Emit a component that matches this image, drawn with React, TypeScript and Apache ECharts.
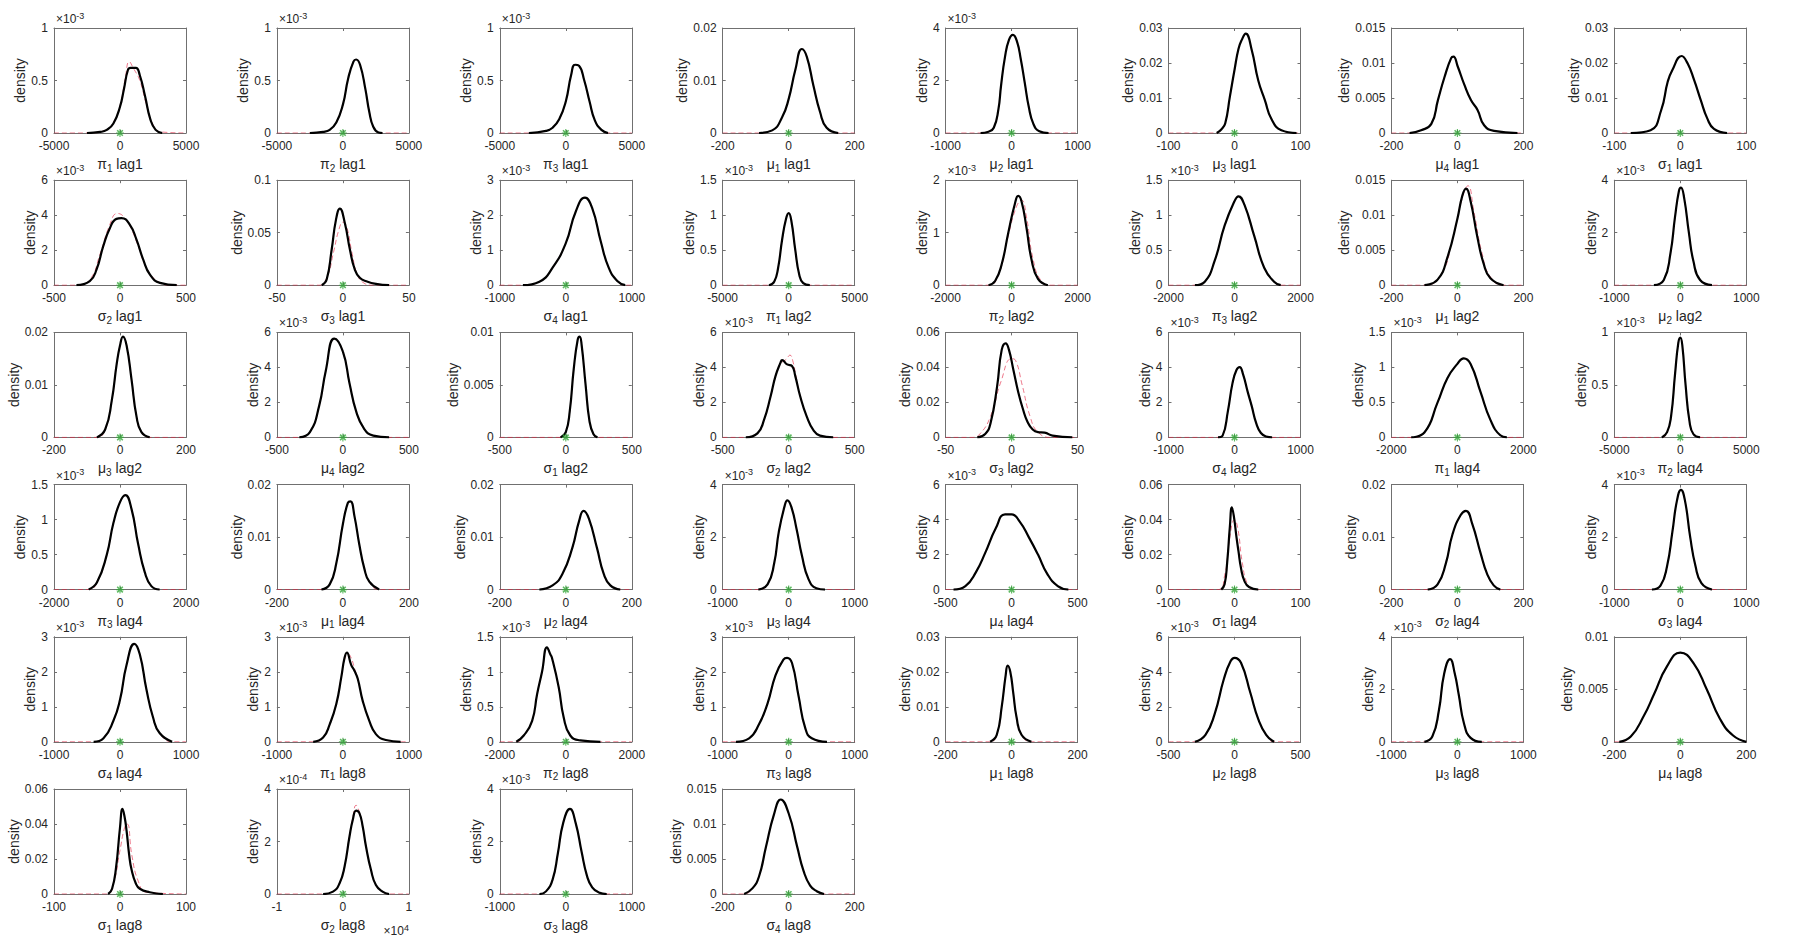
import React, { useEffect, useRef } from "react";
import * as echarts from "echarts";

// ---------- panel meta data ----------
const paramNames = [
  "π1", "π2", "π3", "μ1", "μ2", "μ3", "μ4", "σ1",
  "σ2", "σ3", "σ4", "π1", "π2", "π3", "μ1", "μ2",
  "μ3", "μ4", "σ1", "σ2", "σ3", "σ4", "π1", "π2",
  "π3", "μ1", "μ2", "μ3", "μ4", "σ1", "σ2", "σ3",
  "σ4", "π1", "π2", "π3", "μ1", "μ2", "μ3", "μ4",
  "σ1", "σ2", "σ3", "σ4",
];
const lagNames = [
  "lag1", "lag1", "lag1", "lag1", "lag1", "lag1", "lag1", "lag1",
  "lag1", "lag1", "lag1", "lag2", "lag2", "lag2", "lag2", "lag2",
  "lag2", "lag2", "lag2", "lag2", "lag2", "lag2", "lag4", "lag4",
  "lag4", "lag4", "lag4", "lag4", "lag4", "lag4", "lag4", "lag4",
  "lag4", "lag8", "lag8", "lag8", "lag8", "lag8", "lag8", "lag8",
  "lag8", "lag8", "lag8", "lag8",
];
const xHalfRange = [
  5000, 5000, 5000, 200, 1000, 100, 200, 100,
  500, 50, 1000, 5000, 2000, 2000, 200, 1000,
  200, 500, 500, 500, 50, 1000, 2000, 5000,
  2000, 200, 200, 1000, 500, 100, 200, 1000,
  1000, 1000, 2000, 1000, 200, 500, 1000, 200,
  100, 1, 1000, 200,
];
const xExponent = [
  0, 0, 0, 0, 0, 0, 0, 0, 0, 0, 0, 0, 0, 0, 0, 0, 0, 0, 0, 0, 0, 0,
  0, 0, 0, 0, 0, 0, 0, 0, 0, 0, 0, 0, 0, 0, 0, 0, 0, 0, 0, 4, 0, 0,
];
const yMax = [
  1, 1, 1, 0.02, 4, 0.03, 0.015, 0.03,
  6, 0.1, 3, 1.5, 2, 1.5, 0.015, 4,
  0.02, 6, 0.01, 6, 0.06, 6, 1.5, 1,
  1.5, 0.02, 0.02, 4, 6, 0.06, 0.02, 4,
  3, 3, 1.5, 3, 0.03, 6, 4, 0.01,
  0.06, 4, 4, 0.015,
];
const yStep = [
  0.5, 0.5, 0.5, 0.01, 2, 0.01, 0.005, 0.01,
  2, 0.05, 1, 0.5, 1, 0.5, 0.005, 2,
  0.01, 2, 0.005, 2, 0.02, 2, 0.5, 0.5,
  0.5, 0.01, 0.01, 2, 2, 0.02, 0.01, 2,
  1, 1, 0.5, 1, 0.01, 2, 2, 0.005,
  0.02, 2, 2, 0.005,
];
const yExponent = [
  -3, -3, -3, 0, -3, 0, 0, 0,
  -3, 0, -3, -3, -3, -3, 0, -3,
  0, -3, 0, -3, 0, -3, -3, -3,
  -3, 0, 0, -3, -3, 0, 0, -3,
  -3, -3, -3, -3, 0, -3, -3, 0,
  0, -4, -3, 0,
];

// ---------- posterior densities (black), values in displayed units ----------
const d_pi1_lag1 = [[-2500,0],[-1500,0.01],[-1000,0.03],[-500,0.09],[0,0.25],[300,0.42],[600,0.6],[800,0.62],[1200,0.62],[1500,0.55],[1900,0.35],[2300,0.13],[2700,0.03],[3200,0]];
const d_pi2_lag1 = [[-2500,0],[-1500,0.01],[-1000,0.03],[-500,0.1],[0,0.27],[400,0.52],[800,0.68],[1000,0.7],[1300,0.65],[1700,0.42],[2000,0.2],[2300,0.06],[2700,0.005],[3000,0]];
const d_pi3_lag1 = [[-2800,0],[-1500,0.02],[-1000,0.05],[-500,0.13],[0,0.3],[400,0.55],[700,0.65],[1000,0.64],[1400,0.5],[1800,0.3],[2200,0.12],[2700,0.03],[3200,0]];
const d_mu1_lag1 = [[-90,0],[-50,0.0005],[-20,0.003],[0,0.0065],[20,0.012],[40,0.016],[55,0.0145],[75,0.009],[95,0.004],[115,0.001],[150,0]];
const d_mu2_lag1 = [[-470,0],[-350,0.05],[-270,0.2],[-200,0.9],[-160,1.8],[-100,2.9],[-40,3.55],[20,3.74],[80,3.5],[140,2.8],[200,1.9],[260,1.0],[330,0.35],[420,0.07],[560,0]];
const d_mu3_lag1 = [[-27,0],[-20,0.001],[-14,0.0028],[-7,0.0104],[0,0.018],[6,0.024],[11,0.0266],[17,0.0284],[26,0.0238],[36,0.015],[46,0.0094],[56,0.004],[71,0.0008],[94,0]];
const d_mu4_lag1 = [[-145,0],[-110,0.0004],[-79,0.0013],[-59,0.0047],[-39,0.008],[-19,0.0107],[-12,0.0109],[1,0.0095],[21,0.0069],[41,0.0047],[61,0.0033],[81,0.0011],[111,0.0003],[182,0]];
const d_sig1_lag1 = [[-75,0],[-45,0.0008],[-29,0.0065],[-19,0.0147],[-12,0.018],[2,0.022],[11,0.0199],[21,0.0151],[31,0.0094],[41,0.0041],[51,0.0012],[71,0]];
const d_sig2_lag1 = [[-330,0],[-229,0.23],[-178,0.89],[-128,2.2],[-77,3.26],[-27,3.79],[11,3.83],[75,3.45],[125,2.6],[176,1.46],[227,0.6],[303,0.13],[430,0]];
const d_sig3_lag1 = [[-16,0],[-12.3,0.0054],[-8.5,0.034],[-5.3,0.062],[-2.3,0.073],[1.5,0.059],[5.3,0.034],[9,0.015],[12.8,0.007],[17.8,0.0038],[25,0.0013],[35,0]];
const d_sig4_lag1 = [[-650,0],[-400,0.1],[-200,0.5],[0,1.2],[150,2.1],[290,2.5],[400,2.2],[530,1.25],[650,0.5],[780,0.12],[900,0]];
const d_pi1_lag2 = [[-1500,0],[-1100,0.05],[-800,0.25],[-500,0.65],[-200,0.95],[0,1.03],[200,0.92],[500,0.5],[800,0.15],[1100,0.03],[1600,0]];
const d_pi2_lag2 = [[-700,0],[-500,0.08],[-300,0.4],[-100,1.0],[100,1.55],[200,1.7],[300,1.6],[450,1.1],[600,0.5],[800,0.12],[1100,0]];
const d_pi3_lag2 = [[-1200,0],[-900,0.05],[-600,0.35],[-300,0.85],[0,1.2],[120,1.27],[300,1.15],[600,0.7],[900,0.25],[1200,0.05],[1400,0]];
const d_mu1_lag2 = [[-100,0],[-60,0.0008],[-30,0.004],[0,0.0095],[15,0.0128],[26,0.0138],[40,0.012],[60,0.007],[80,0.003],[100,0.001],[140,0]];
const d_mu2_lag2 = [[-400,0],[-250,0.2],[-150,1.2],[-80,2.6],[-20,3.6],[10,3.72],[60,3.3],[130,2.0],[200,0.9],[300,0.2],[480,0]];
const d_mu3_lag2 = [[-70,0],[-45,0.0015],[-25,0.007],[-10,0.014],[0,0.0175],[9,0.0192],[20,0.0175],[35,0.011],[50,0.004],[65,0.001],[90,0]];
const d_mu4_lag2 = [[-330,0],[-250,0.3],[-180,1.8],[-130,3.8],[-65,5.65],[0,4.9],[50,3.1],[100,1.5],[160,0.5],[230,0.1],[350,0]];
const d_sig1_lag2 = [[-40,0],[0,0.0005],[30,0.0025],[60,0.0065],[90,0.0093],[105,0.0096],[120,0.0088],[150,0.005],[180,0.0015],[210,0.0003],[240,0]];
const d_sig2_lag2 = [[-325,0],[-237,0.23],[-187,1.0],[-137,2.35],[-100,3.5],[-62,4.27],[-50,4.42],[-12,4.17],[25,4.08],[50,3.5],[87,2.35],[137,1.19],[187,0.42],[237,0.1],[337,0]];
const d_sig3_lag2 = [[-26,0],[-20,0.002],[-16,0.008],[-11,0.029],[-7.5,0.05],[-4.5,0.0537],[-2,0.05],[1.25,0.039],[5,0.026],[8.75,0.0158],[12,0.009],[16,0.0045],[20,0.003],[25,0.0027],[31,0.001],[46,0]];
const d_sig4_lag2 = [[-250,0],[-180,0.1],[-100,1.5],[-30,3.1],[30,3.85],[78,4.02],[130,3.6],[200,2.6],[260,1.8],[330,0.8],[400,0.25],[480,0.05],[570,0]];
const d_pi1_lag4 = [[-1400,0],[-1000,0.07],[-600,0.5],[-300,0.85],[0,1.05],[190,1.13],[400,1.05],[700,0.65],[1000,0.25],[1300,0.03],[1500,0]];
const d_pi2_lag4 = [[-1400,0],[-1000,0.05],[-700,0.2],[-400,0.6],[-150,0.9],[0,0.95],[150,0.88],[400,0.5],[700,0.15],[1000,0.03],[1500,0]];
const d_pi3_lag4 = [[-950,0],[-700,0.1],[-400,0.5],[-200,0.95],[0,1.25],[160,1.35],[350,1.15],[550,0.65],[750,0.25],[950,0.05],[1200,0]];
const d_mu1_lag4 = [[-65,0],[-40,0.001],[-20,0.005],[0,0.0125],[15,0.0165],[23,0.0168],[35,0.014],[50,0.0085],[65,0.004],[80,0.0015],[110,0]];
const d_mu2_lag4 = [[-80,0],[-40,0.0008],[-10,0.003],[20,0.008],[40,0.013],[54,0.015],[70,0.0135],[95,0.0078],[115,0.003],[135,0.0008],[165,0]];
const d_mu3_lag4 = [[-460,0],[-320,0.2],[-220,1.0],[-150,2.2],[-60,3.2],[-20,3.4],[40,3.15],[120,2.3],[200,1.3],[300,0.4],[420,0.05],[550,0]];
const d_mu4_lag4 = [[-440,0],[-350,0.2],[-270,1.0],[-200,2.1],[-120,3.5],[-50,4.3],[0,4.3],[60,3.9],[130,3.0],[200,2.0],[270,0.9],[350,0.2],[430,0]];
const d_sig1_lag4 = [[-20,0],[-15,0.003],[-11,0.016],[-7,0.036],[-4,0.047],[-1,0.042],[3,0.03],[6,0.022],[10,0.012],[15,0.005],[22,0.0015],[36,0]];
const d_sig2_lag4 = [[-90,0],[-60,0.001],[-35,0.005],[-15,0.0105],[10,0.0142],[26,0.015],[45,0.0125],[70,0.007],[90,0.003],[110,0.0008],[130,0]];
const d_sig3_lag4 = [[-430,0],[-300,0.15],[-200,0.9],[-120,2.2],[-50,3.4],[10,3.8],[70,3.4],[150,2.0],[230,0.9],[320,0.25],[480,0]];
const d_sig4_lag4 = [[-400,0],[-250,0.1],[-100,0.6],[0,1.2],[100,2.2],[217,2.8],[300,2.5],[400,1.5],[500,0.7],[600,0.25],[790,0]];
const d_pi1_lag8 = [[-450,0],[-300,0.12],[-200,0.5],[-100,1.08],[-25,1.84],[25,2.4],[60,2.55],[125,2.2],[175,2.03],[225,1.8],[300,1.17],[400,0.6],[500,0.22],[650,0.05],[875,0]];
const d_pi2_lag8 = [[-1500,0],[-1275,0.09],[-1020,0.3],[-870,0.68],[-720,1.0],[-570,1.35],[-470,1.25],[-420,1.2],[-215,0.78],[-65,0.35],[135,0.09],[440,0.02],[1050,0]];
const d_pi3_lag8 = [[-800,0],[-600,0.1],[-450,0.5],[-320,1.1],[-200,1.9],[-80,2.35],[-25,2.4],[50,2.25],[150,1.3],[250,0.4],[350,0.1],[580,0]];
const d_mu1_lag8 = [[-65,0],[-45,0.002],[-30,0.01],[-18,0.019],[-12,0.0218],[-4,0.02],[5,0.014],[15,0.007],[30,0.002],[60,0]];
const d_mu2_lag8 = [[-300,0],[-220,0.4],[-150,1.6],[-80,3.6],[-30,4.6],[0,4.8],[50,4.5],[120,2.8],[180,1.3],[240,0.4],[300,0]];
const d_mu3_lag8 = [[-500,0],[-380,0.2],[-280,1.2],[-200,2.6],[-110,3.15],[-40,2.6],[20,1.8],[100,0.7],[200,0.15],[370,0]];
const d_mu4_lag8 = [[-185,0],[-150,0.0005],[-110,0.0025],[-80,0.0045],[-40,0.0072],[0,0.0085],[40,0.0075],[80,0.005],[120,0.0022],[160,0.0006],[200,0]];
const d_sig1_lag8 = [[-18,0],[-12,0.003],[-6,0.015],[0,0.038],[3.8,0.0486],[7,0.044],[10,0.036],[14,0.022],[17.5,0.014],[24,0.006],[30,0.003],[45,0.001],[65,0]];
const d_sig2_lag8 = [[-0.3,0],[-0.15,0.09],[-0.05,0.41],[0.025,1.04],[0.1,2.19],[0.15,2.83],[0.2,3.18],[0.25,3.08],[0.3,2.57],[0.35,1.81],[0.425,0.92],[0.5,0.34],[0.6,0.09],[0.7,0]];
const d_sig3_lag8 = [[-400,0],[-300,0.1],[-200,0.55],[-120,1.55],[-40,2.7],[63,3.24],[150,2.7],[240,1.6],[320,0.7],[400,0.25],[500,0.06],[620,0]];
const d_sig4_lag8 = [[-135,0],[-110,0.0008],[-90,0.0025],[-69,0.0067],[-45,0.0113],[-24,0.0135],[0,0.0115],[26,0.0067],[45,0.0033],[65,0.0012],[85,0.0004],[107,0]];

const posterior = [
  d_pi1_lag1, d_pi2_lag1, d_pi3_lag1, d_mu1_lag1, d_mu2_lag1, d_mu3_lag1, d_mu4_lag1, d_sig1_lag1,
  d_sig2_lag1, d_sig3_lag1, d_sig4_lag1, d_pi1_lag2, d_pi2_lag2, d_pi3_lag2, d_mu1_lag2, d_mu2_lag2,
  d_mu3_lag2, d_mu4_lag2, d_sig1_lag2, d_sig2_lag2, d_sig3_lag2, d_sig4_lag2, d_pi1_lag4, d_pi2_lag4,
  d_pi3_lag4, d_mu1_lag4, d_mu2_lag4, d_mu3_lag4, d_mu4_lag4, d_sig1_lag4, d_sig2_lag4, d_sig3_lag4,
  d_sig4_lag4, d_pi1_lag8, d_pi2_lag8, d_pi3_lag8, d_mu1_lag8, d_mu2_lag8, d_mu3_lag8, d_mu4_lag8,
  d_sig1_lag8, d_sig2_lag8, d_sig3_lag8, d_sig4_lag8,
];

// ---------- alternative densities (red dashed) where they visibly differ ----------
const r_pi1_lag1 = [[-5000,0],[-2500,0],[-1000,0.03],[-500,0.1],[0,0.26],[400,0.52],[700,0.68],[1000,0.62],[1500,0.5],[2000,0.27],[2500,0.08],[3100,0.01],[5000,0]];
const r_sig2_lag1 = [[-500,0],[-330,0],[-230,0.3],[-150,1.8],[-80,3.4],[-20,4.1],[50,3.7],[130,2.4],[200,1.0],[280,0.25],[380,0],[500,0]];
const r_sig3_lag1 = [[-50,0],[-18,0],[-12,0.008],[-7,0.032],[-3,0.053],[0,0.06],[3,0.055],[7,0.03],[11,0.01],[16,0.002],[22,0],[50,0]];
const r_pi2_lag2 = [[-2000,0],[-700,0],[-400,0.2],[-100,0.95],[150,1.5],[300,1.62],[450,1.3],[650,0.5],[900,0.08],[1200,0],[2000,0]];
const r_mu1_lag2 = [[-200,0],[-100,0],[-50,0.0015],[-15,0.0065],[15,0.0125],[32,0.0142],[50,0.0105],[75,0.0045],[100,0.0012],[140,0],[200,0]];
const r_sig2_lag2 = [[-500,0],[-325,0],[-237,0.23],[-187,1.0],[-137,2.35],[-100,3.5],[-62,4.2],[-20,4.45],[10,4.7],[30,4.4],[55,3.5],[87,2.35],[137,1.19],[187,0.42],[237,0.1],[337,0],[500,0]];
const r_sig3_lag2 = [[-50,0],[-30,0],[-24,0.002],[-16,0.012],[-8,0.032],[0,0.045],[3,0.044],[8,0.03],[14,0.012],[20,0.003],[30,0],[50,0]];
const r_sig1_lag4 = [[-100,0],[-25,0],[-15,0.008],[-7,0.03],[0,0.04],[5,0.035],[12,0.015],[20,0.003],[30,0],[100,0]];
const r_pi1_lag8 = [[-1000,0],[-450,0],[-300,0.12],[-200,0.5],[-100,1.08],[-25,1.84],[25,2.35],[80,2.5],[125,2.4],[175,2.1],[225,1.8],[300,1.17],[400,0.6],[500,0.22],[650,0.05],[875,0],[1000,0]];
const r_sig1_lag8 = [[-100,0],[-20,0],[-10,0.006],[0,0.025],[7,0.038],[11,0.04],[18,0.022],[28,0.007],[40,0.001],[100,0]];
const r_sig2_lag8 = [[-1,0],[-0.3,0],[-0.15,0.09],[-0.05,0.41],[0.025,1.04],[0.1,2.2],[0.15,2.9],[0.2,3.38],[0.24,3.2],[0.3,2.57],[0.35,1.81],[0.425,0.92],[0.5,0.34],[0.6,0.09],[0.7,0],[1,0]];

const alternative: Record<number, number[][]> = {
  0: r_pi1_lag1, 8: r_sig2_lag1, 9: r_sig3_lag1, 12: r_pi2_lag2, 14: r_mu1_lag2,
  19: r_sig2_lag2, 20: r_sig3_lag2, 29: r_sig1_lag4, 33: r_pi1_lag8, 40: r_sig1_lag8, 41: r_sig2_lag8,
};

// true value marker
const trueValue = [[0, 0]];

// ---------- layout / style ----------
const COLS = 8;
const LEFT0 = 54;
const TOP0 = 28;
const DX = 222.9;
const DY = 152.2;
const GW = 132;
const GH = 105;
const FONT = '"Liberation Sans", Arial, Helvetica, sans-serif';
const TEXT = "#262626";
const AXIS = "#707070";
const TICK_FS = 12;
const ASTERISK =
  "path://M-0.7,-5L0.7,-5L0.7,5L-0.7,5Z M-5,-0.7L5,-0.7L5,0.7L-5,0.7Z M-4.2,-2.8L-2.8,-4.2L4.2,2.8L2.8,4.2Z M2.8,-4.2L4.2,-2.8L-2.8,4.2L-4.2,2.8Z";

function fmt(v: number): string {
  return String(parseFloat(Number(v).toPrecision(6)));
}
function textWidth(s: string): number {
  let w = 0;
  for (const ch of s) w += ch === "." ? 0.278 : ch === "-" ? 0.333 : 0.556;
  return w * TICK_FS;
}

function buildOption() {
  const grids: any[] = [];
  const xAxes: any[] = [];
  const yAxes: any[] = [];
  const series: any[] = [];
  const graphics: any[] = [];

  paramNames.forEach((pname, i) => {
    const r = Math.floor(i / COLS);
    const c = i % COLS;
    const left = LEFT0 + c * DX;
    const top = TOP0 + r * DY;
    grids.push({ left, top, width: GW, height: GH, show: false, containLabel: false });

    const half = xHalfRange[i];
    const greek = pname.charAt(0);
    const sub = pname.slice(1);

    const commonAxis = {
      axisLine: { show: true, onZero: false, lineStyle: { color: AXIS, width: 1 } },
      axisTick: { show: true, inside: true, length: 3, lineStyle: { color: AXIS } },
      splitLine: { show: false },
    };

    xAxes.push({
      gridIndex: i,
      type: "value",
      position: "bottom",
      min: -half,
      max: half,
      interval: half,
      ...commonAxis,
      axisLabel: { fontSize: TICK_FS, fontFamily: FONT, color: TEXT, margin: 7, formatter: (v: number) => fmt(v) },
      name: `{g|${greek}}{s|${sub}}{t| ${lagNames[i]}}`,
      nameLocation: "middle",
      nameGap: 22,
      nameTextStyle: {
        fontFamily: FONT,
        fontSize: 14,
        color: TEXT,
        rich: {
          g: { fontFamily: FONT, fontSize: 14, color: TEXT },
          s: { fontFamily: FONT, fontSize: 10, color: TEXT, padding: [8, 0, 0, 0] },
          t: { fontFamily: FONT, fontSize: 14, color: TEXT },
        },
      },
    });
    xAxes.push({
      gridIndex: i,
      type: "value",
      position: "top",
      min: -half,
      max: half,
      interval: half,
      ...commonAxis,
      axisLabel: { show: false },
    });

    const labels: string[] = [];
    for (let k = 0; k * yStep[i] <= yMax[i] + 1e-12; k++) labels.push(fmt(k * yStep[i]));
    const maxW = Math.max(...labels.map(textWidth));

    yAxes.push({
      gridIndex: i,
      type: "value",
      position: "left",
      min: 0,
      max: yMax[i],
      interval: yStep[i],
      ...commonAxis,
      axisLabel: { fontSize: TICK_FS, fontFamily: FONT, color: TEXT, margin: 6, formatter: (v: number) => fmt(v) },
      name: "density",
      nameLocation: "middle",
      nameGap: maxW + 9.5,
      nameTextStyle: { fontFamily: FONT, fontSize: 14, color: TEXT },
    });
    yAxes.push({
      gridIndex: i,
      type: "value",
      position: "right",
      min: 0,
      max: yMax[i],
      interval: yStep[i],
      ...commonAxis,
      axisLabel: { show: false },
    });

    const xi = 2 * i;
    const yi = 2 * i;
    const post = posterior[i];
    const alt = alternative[i] || [[-half, 0], ...post, [half, 0]];

    series.push({
      type: "line",
      xAxisIndex: xi,
      yAxisIndex: yi,
      data: alt,
      showSymbol: false,
      smooth: 0.5,
      silent: true,
      z: 2,
      lineStyle: { color: "rgba(225,30,60,0.6)", width: 1, type: [5, 3] },
    });
    series.push({
      type: "line",
      xAxisIndex: xi,
      yAxisIndex: yi,
      data: post,
      showSymbol: false,
      smooth: 0.5,
      silent: true,
      z: 3,
      lineStyle: { color: "#000000", width: 2.2 },
    });
    series.push({
      type: "scatter",
      xAxisIndex: xi,
      yAxisIndex: yi,
      data: trueValue,
      symbol: ASTERISK,
      symbolSize: 8,
      clip: false,
      silent: true,
      z: 4,
      itemStyle: { color: "#35a83a" },
    });

    const expRich = {
      a: { fontFamily: FONT, fontSize: 12, fill: TEXT },
      b: { fontFamily: FONT, fontSize: 9, fill: TEXT, padding: [0, 0, 7, 0] },
    };
    if (yExponent[i] !== 0) {
      graphics.push({
        type: "text",
        x: left + 2,
        y: top - 1,
        silent: true,
        style: {
          text: `{a|×10}{b|${yExponent[i]}}`,
          align: "left",
          verticalAlign: "bottom",
          rich: expRich,
        },
      });
    }
    if (xExponent[i] !== 0) {
      graphics.push({
        type: "text",
        x: left + GW,
        y: top + GH + 45,
        silent: true,
        style: {
          text: `{a|×10}{b|${xExponent[i]}}`,
          align: "right",
          verticalAlign: "bottom",
          rich: expRich,
        },
      });
    }
  });

  return {
    animation: false,
    backgroundColor: "#ffffff",
    grid: grids,
    xAxis: xAxes,
    yAxis: yAxes,
    series,
    graphic: graphics,
  };
}

export default function App() {
  const ref = useRef<HTMLDivElement>(null);
  useEffect(() => {
    if (!ref.current) return;
    const chart = echarts.init(ref.current, null, { renderer: "svg" });
    chart.setOption(buildOption() as any);
    return () => chart.dispose();
  }, []);
  return (
    <div
      ref={ref}
      style={{ position: "fixed", left: 0, top: 0, width: 1800, height: 941, background: "#fff" }}
    />
  );
}
